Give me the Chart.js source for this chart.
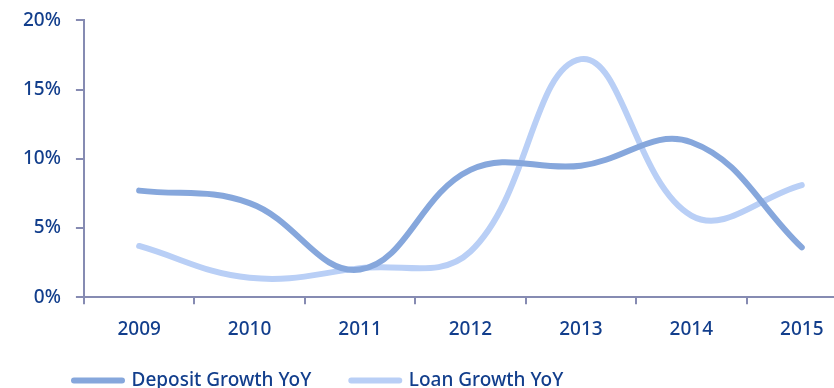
<!DOCTYPE html>
<html>
<head>
<meta charset="utf-8">
<script src="https://cdn.jsdelivr.net/npm/chart.js@4.4.1/dist/chart.umd.min.js"></script>
<style>
  html, body { margin: 0; padding: 0; background: #fff; overflow: hidden; }
  #wrap { position: relative; width: 857px; height: 430px; margin-top: -6px; }
</style>
</head>
<body>
<div id="wrap"><canvas id="c"></canvas></div>
<script>
const categories = ['2009', '2010', '2011', '2012', '2013', '2014', '2015'];
const depositGrowth = [7.7, 6.8, 2.0, 9.2, 9.5, 11.2, 3.6];
const loanGrowth = [3.7, 1.4, 2.1, 3.3, 17.2, 5.9, 8.1];
const yTicks = [0, 5, 10, 15, 20];
const seriesNames = ['Deposit Growth YoY', 'Loan Growth YoY'];

const TEXT = '#123e8c';
const AXIS = '#868bb2';
const DEP = '#86a7dc';
const LOAN = '#b9cff6';
const FONT = { family: "'Noto Sans', 'Open Sans', sans-serif", size: 19, weight: '500' };

const legendShift = {
  id: 'legendShift',
  afterLayout(chart) {
    const l = chart.legend;
    if (!l) return;
    const dx = 26, dy = -24;
    l.left += dx; l.right += dx; l.top += dy; l.bottom += dy;
  }
};

new Chart(document.getElementById('c'), {
  type: 'line',
  data: {
    labels: categories,
    datasets: [
      { label: seriesNames[0], data: depositGrowth, borderColor: DEP, backgroundColor: DEP,
        borderWidth: 6, tension: 0.4, pointRadius: 0, borderCapStyle: 'round', borderJoinStyle: 'round' },
      { label: seriesNames[1], data: loanGrowth, borderColor: LOAN, backgroundColor: LOAN,
        borderWidth: 6, tension: 0.4, pointRadius: 0, borderCapStyle: 'round', borderJoinStyle: 'round' }
    ]
  },
  options: {
    responsive: true,
    maintainAspectRatio: false,
    animation: false,
    layout: { padding: { left: 8, top: 14, right: 0, bottom: 0 } },
    plugins: {
      tooltip: { enabled: false },
      legend: {
        position: 'bottom',
        align: 'start',
        labels: {
          boxWidth: 48,
          boxHeight: 0,
          padding: 40,
          color: TEXT,
          font: FONT
        }
      }
    },
    scales: {
      x: {
        offset: true,
        grid: { display: true, drawOnChartArea: false, offset: true, drawTicks: true,
                tickLength: 7, color: AXIS, lineWidth: 2 },
        border: { display: true, color: AXIS, width: 2 },
        ticks: { color: TEXT, padding: 14, font: FONT, maxRotation: 0 }
      },
      y: {
        min: 0, max: 20,
        afterBuildTicks(axis) { axis.ticks = yTicks.map(v => ({ value: v })); },
        grid: { display: true, drawOnChartArea: false, drawTicks: true, tickLength: 8, color: AXIS, lineWidth: 2 },
        border: { display: true, color: AXIS, width: 2 },
        ticks: { color: TEXT, padding: 15, font: FONT, callback: v => v + '%' }
      }
    }
  },
  plugins: [legendShift]
});
</script>
</body>
</html>
